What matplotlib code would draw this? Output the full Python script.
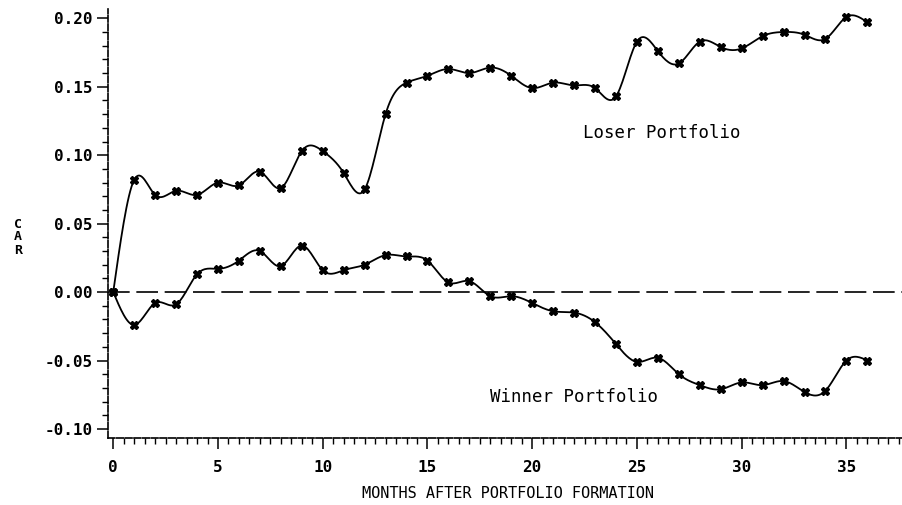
import numpy as np
import matplotlib
matplotlib.use("Agg")
import matplotlib.pyplot as plt
from matplotlib.ticker import MultipleLocator, FormatStrFormatter

months = list(range(37))
loser_car = [0.0, 0.082, 0.071, 0.074, 0.071, 0.080, 0.078, 0.088, 0.076, 0.103,
             0.103, 0.087, 0.075, 0.130, 0.153, 0.158, 0.163, 0.160, 0.164, 0.158,
             0.149, 0.153, 0.151, 0.149, 0.143, 0.183, 0.176, 0.167, 0.183, 0.179,
             0.178, 0.187, 0.190, 0.188, 0.185, 0.201, 0.197]
winner_car = [0.0, -0.024, -0.008, -0.009, 0.013, 0.017, 0.023, 0.030, 0.019, 0.034,
              0.016, 0.016, 0.020, 0.027, 0.026, 0.023, 0.007, 0.008, -0.003, -0.003,
              -0.008, -0.014, -0.015, -0.022, -0.038, -0.051, -0.048, -0.060, -0.068, -0.071,
              -0.066, -0.068, -0.065, -0.073, -0.072, -0.050, -0.050]


def natural_spline(x, y, per=16):
    # plain natural cubic spline, just for drawing the smooth curve
    x = np.asarray(x, float); y = np.asarray(y, float)
    n = len(x); h = np.diff(x)
    A = np.zeros((n, n)); b = np.zeros(n)
    A[0, 0] = A[-1, -1] = 1
    for i in range(1, n - 1):
        A[i, i - 1] = h[i - 1]; A[i, i] = 2 * (h[i - 1] + h[i]); A[i, i + 1] = h[i]
        b[i] = 6 * ((y[i + 1] - y[i]) / h[i] - (y[i] - y[i - 1]) / h[i - 1])
    M = np.linalg.solve(A, b)
    xs, ys = [], []
    for i in range(n - 1):
        t = np.linspace(x[i], x[i + 1], per, endpoint=False)
        a = x[i + 1] - t; c = t - x[i]
        s = (M[i] * a**3 + M[i + 1] * c**3) / (6 * h[i]) \
            + (y[i] / h[i] - M[i] * h[i] / 6) * a + (y[i + 1] / h[i] - M[i + 1] * h[i] / 6) * c
        xs.extend(t); ys.extend(s)
    xs.append(x[-1]); ys.append(y[-1])
    return np.array(xs), np.array(ys)


mono = "DejaVu Sans Mono"
fig = plt.figure(figsize=(9.03, 5.05), dpi=100)
ax = fig.add_axes([0.1196, 0.1327, 0.8804, 0.850])

for series in (loser_car, winner_car):
    sx, sy = natural_spline(months, series)
    ax.plot(sx, sy, color="black", lw=1.3)
    ax.plot(months, series, ls="none", marker="X", ms=5.5, color="black")

ax.axhline(0, color="black", lw=1.2, dashes=(13, 4))

ax.set_xlim(-0.25, 37.7)
ax.set_ylim(-0.1066, 0.207)

ax.xaxis.set_minor_locator(MultipleLocator(0.5))
ax.yaxis.set_minor_locator(MultipleLocator(0.01))
ax.yaxis.set_major_formatter(FormatStrFormatter("%.2f"))
ax.set_yticks(np.arange(-0.10, 0.201, 0.05))
ax.set_xticks(range(0, 36, 5))

ax.tick_params(which="major", length=8, width=1.1, direction="out", pad=3)
ax.tick_params(which="minor", length=4, width=1.0, direction="out")
ax.tick_params(axis="x", which="major", pad=8)
for lab in ax.get_xticklabels() + ax.get_yticklabels():
    lab.set_family(mono); lab.set_fontweight("bold"); lab.set_fontsize(11.5)

for s in ("top", "right"):
    ax.spines[s].set_visible(False)
for s in ("left", "bottom"):
    ax.spines[s].set_linewidth(1.2)
    ax.spines[s].set_linestyle((0, (4, 1.2)))

ax.text(26.2, 0.116, "Loser Portfolio", family=mono,
        fontsize=12.5, ha="center", va="center")
ax.text(22.0, -0.0766, "Winner Portfolio", family=mono,
        fontsize=12.5, ha="center", va="center")

for ch, yy in zip("CAR", (224, 237, 251)):
    fig.text(18 / 903, 1 - yy / 505, ch, family=mono, fontweight="bold",
             fontsize=9.5, ha="center", va="center")

fig.text(508 / 903, 1 - 493 / 505, "MONTHS AFTER PORTFOLIO FORMATION", family=mono,
         fontsize=11, ha="center", va="center")

fig.savefig("out.png", dpi=100)
